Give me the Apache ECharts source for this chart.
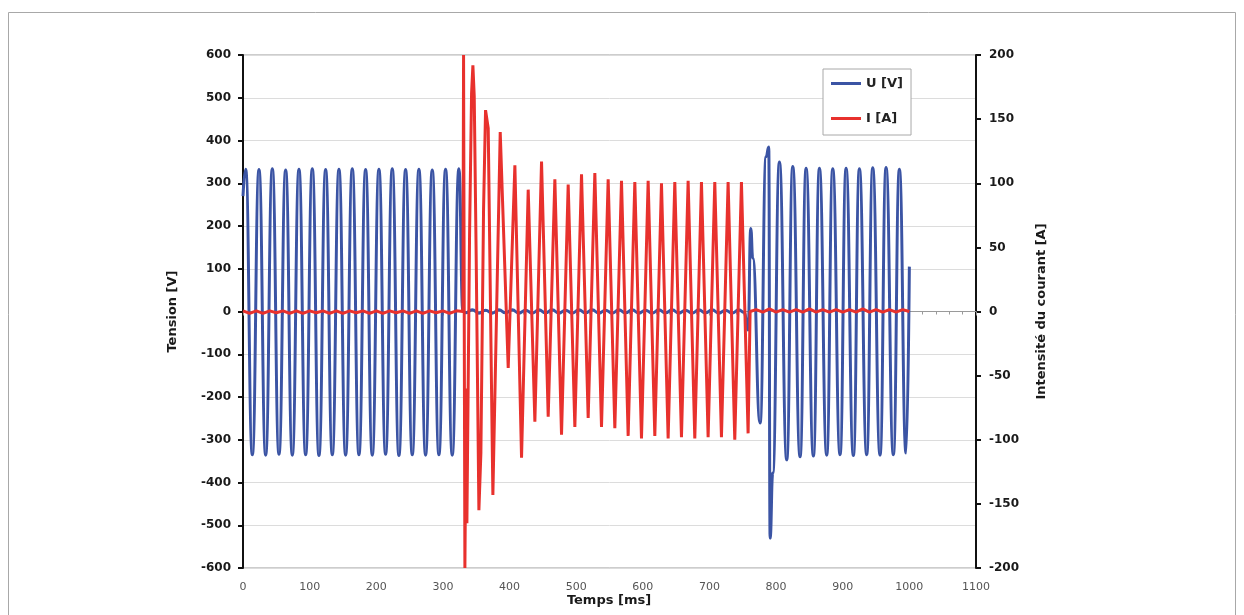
<!DOCTYPE html>
<html>
<head>
<meta charset="utf-8">
<script src="https://cdn.jsdelivr.net/npm/echarts@6/dist/echarts.min.js"></script>
<style>
html,body{margin:0;padding:0;background:#fff;}
#chart{width:1244px;height:615px;}
</style>
</head>
<body>
<div id="chart"></div>
<script>
// ---- Data ----
// Tension U [V] : time (ms) of each extreme / notable point, and its value
const uTime = [
  0, 4, 14, 24, 34, 44, 54, 64, 74, 84, 94, 104, 114, 124, 134, 144, 154, 164, 174, 184,
  194, 204, 214, 224, 234, 244, 254, 264, 274, 284, 294, 304, 314, 324, 330,
  334, 344, 354, 364, 374, 384, 394, 404, 414, 424, 434, 444, 454, 464, 474, 484, 494,
  504, 514, 524, 534, 544, 554, 564, 574, 584, 594, 604, 614, 624, 634, 644, 654, 664,
  674, 684, 694, 704, 714, 724, 734, 744, 752, 758,
  762, 765, 776, 785, 789, 791, 795, 805, 816, 825, 836, 845, 856, 865, 876, 885, 896,
  905, 916, 925, 936, 945, 956, 965, 976, 985, 995, 1000
];
const uValue = [
  270, 333, -335, 332, -336, 334, -334, 331, -336, 333, -335, 334, -337, 332, -335, 333, -336, 334, -335, 332,
  -336, 333, -334, 334, -337, 332, -335, 333, -336, 331, -335, 333, -336, 334, 0,
  -3, 4, -4, 3, -4, 4, -3, 4, -4, 3, -4, 4, -3, 4, -4, 3, -4,
  4, -3, 4, -4, 3, -4, 4, -3, 4, -4, 3, -4, 4, -3, 4, -4, 3,
  -4, 4, -3, 4, -4, 3, -4, 4, -2, -43,
  194, 125, -261, 362, 385, -530, -378, 350, -347, 339, -340, 335, -338, 335, -336, 334, -335,
  335, -337, 334, -335, 336, -336, 337, -335, 333, -331, 105
];

// Intensité I [A]
const iTime = [
  0, 10, 20, 30, 40, 50, 60, 70, 80, 90, 100, 110, 120, 130, 140, 150, 160, 170, 180, 190,
  200, 210, 220, 230, 240, 250, 260, 270, 280, 290, 300, 310, 320, 330,
  331, 333, 335, 336, 340, 343, 345, 347, 350, 354, 357, 361, 364, 368, 375, 386, 398,
  408, 418, 428, 438, 448, 458, 468, 478, 488, 498, 508, 518, 528, 538, 548, 558,
  568, 578, 588, 598, 608, 618, 628, 638, 648, 658, 668, 678, 688, 698, 708, 718,
  728, 738, 748, 758, 761,
  770, 780, 790, 800, 810, 820, 830, 840, 850, 860, 870, 880, 890, 900, 910, 920,
  930, 940, 950, 960, 970, 980, 990, 1000
];
const iValue = [
  0.5, -1.5, 0.5, -1.5, 0.5, -1, 0.5, -1.5, 0.5, -1.5, 0.5, -1, 0.5, -1.5, 0.5, -1.5, 0.5, -1, 0.5, -1.5,
  0.5, -1.5, 0.5, -1, 0.5, -1.5, 0.5, -1.5, 0.5, -1, 0.5, -1.5, 0.5, 0,
  200, -200, -60, -165, 60, 170, 192, 168, 40, -155, -110, 80, 157, 143, -143, 140, -44,
  114, -114, 95, -86, 117, -82, 103, -96, 99, -90, 107, -83, 108, -90, 103, -91,
  102, -97, 101, -99, 102, -97, 100, -99, 101, -98, 102, -99, 101, -98, 101, -98,
  101, -100, 101, -95, 0,
  1.5, -0.5, 2, -0.5, 1.5, -0.5, 1.5, -0.5, 2, -0.5, 1.5, -0.5, 1.5, -0.5, 1.5, -0.5,
  2, -0.5, 1.5, -0.5, 1.5, -0.5, 1.5, 0
];

const leftTicks = { min: -600, max: 600, step: 100 };
const rightTicks = { min: -200, max: 200, step: 50 };
const xTicks = { min: 0, max: 1100, step: 100 };

const uData = uTime.map((t, k) => [t, uValue[k]]);
const iData = iTime.map((t, k) => [t, iValue[k]]);

const FONT = 'DejaVu Sans';

const chart = echarts.init(document.getElementById('chart'), null, { renderer: 'canvas' });
chart.setOption({
  animation: false,
  backgroundColor: '#ffffff',
  grid: { left: 243, right: 268, top: 55, bottom: 47, show: true, borderColor: '#9a9a9a', borderWidth: 1, backgroundColor: 'transparent' },
  legend: {
    data: ['U [V]', 'I [A]'],
    orient: 'vertical',
    left: 823, top: 69,
    backgroundColor: '#ffffff',
    borderColor: '#a8a8a8', borderWidth: 1,
    padding: [7, 8, 9, 8],
    itemGap: 20,
    icon: 'rect',
    itemWidth: 30, itemHeight: 3,
    textStyle: { fontFamily: FONT, fontWeight: 'bold', fontSize: 13, color: '#222', lineHeight: 15 }
  },
  xAxis: {
    type: 'value',
    min: xTicks.min, max: xTicks.max, interval: xTicks.step,
    axisLine: { onZero: true, lineStyle: { color: '#9a9a9a', width: 1 } },
    axisTick: { show: true, length: 4, lineStyle: { color: '#9a9a9a' } },
    minorTick: { show: true, splitNumber: 5, length: 3, lineStyle: { color: '#9a9a9a' } },
    axisLabel: { color: '#555', fontFamily: FONT, fontSize: 11, margin: 14, formatter: v => String(v) },
    splitLine: { show: false }
  },
  yAxis: [
    {
      type: 'value', position: 'left',
      min: leftTicks.min, max: leftTicks.max, interval: leftTicks.step,
      name: 'Tension [V]', nameLocation: 'middle', nameGap: 64,
      nameTextStyle: { fontFamily: FONT, fontWeight: 'bold', fontSize: 13, color: '#1a1a1a' },
      axisLine: { show: true, onZero: false, lineStyle: { color: '#111', width: 2 } },
      axisTick: { show: true, length: 5, lineStyle: { color: '#111', width: 2 } },
      axisLabel: { color: '#1a1a1a', fontFamily: FONT, fontWeight: 'bold', fontSize: 12, margin: 12, formatter: v => String(v) },
      splitLine: { show: true, lineStyle: { color: '#dcdcdc', width: 1 } }
    },
    {
      type: 'value', position: 'right',
      min: rightTicks.min, max: rightTicks.max, interval: rightTicks.step,
      name: 'Intensité du courant [A]', nameLocation: 'middle', nameGap: 59,
      nameTextStyle: { fontFamily: FONT, fontWeight: 'bold', fontSize: 13, color: '#1a1a1a' },
      axisLine: { show: true, onZero: false, lineStyle: { color: '#111', width: 2 } },
      axisTick: { show: true, length: 5, lineStyle: { color: '#111', width: 2 } },
      axisLabel: { color: '#1a1a1a', fontFamily: FONT, fontWeight: 'bold', fontSize: 12, margin: 13, formatter: v => String(v) },
      splitLine: { show: false }
    }
  ],
  series: [
    {
      name: 'U [V]', type: 'line', yAxisIndex: 0,
      data: uData,
      smooth: 0.5, smoothMonotone: 'x',
      showSymbol: false, symbol: 'none',
      lineStyle: { color: '#3b54a4', width: 3 },
      itemStyle: { color: '#3b54a4' },
      z: 2
    },
    {
      name: 'I [A]', type: 'line', yAxisIndex: 1,
      data: iData,
      smooth: false,
      showSymbol: false, symbol: 'none',
      lineStyle: { color: '#e8312d', width: 3 },
      itemStyle: { color: '#e8312d' },
      z: 3
    }
  ],
  graphic: [
    {
      type: 'rect', silent: true, z: -1,
      shape: { x: 8.5, y: 12.5, width: 1227, height: 700 },
      style: { fill: 'none', stroke: '#a8a8a8', lineWidth: 1 }
    },
    {
      type: 'text', silent: true,
      x: 609, y: 601,
      style: {
        text: 'Temps [ms]',
        font: 'bold 13px "DejaVu Sans"',
        fill: '#1a1a1a',
        textAlign: 'center', textVerticalAlign: 'middle',
        align: 'center', verticalAlign: 'middle'
      }
    }
  ]
});
</script>
</body>
</html>
